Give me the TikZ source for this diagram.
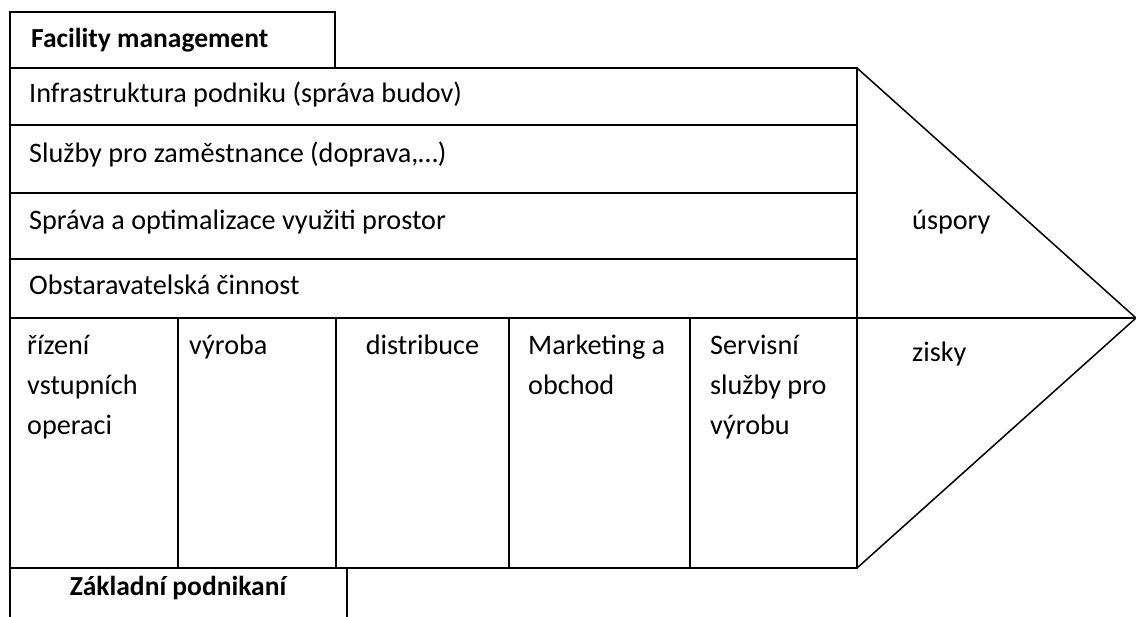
\documentclass[tikz,border=0pt]{standalone}
\usepackage{fontspec}
\setmainfont{Carlito}
\begin{document}
\begin{tikzpicture}[x=1pt,y=-1pt,
  frame/.style={line width=2.2pt},
  diag/.style={line width=1.5pt},
  lbl/.style={inner sep=0pt,anchor=base west,font=\fontsize{28.2}{40}\selectfont},
  lblc/.style={inner sep=0pt,anchor=base,font=\fontsize{28.2}{40}\selectfont},
  multi/.style={lbl,align=left},
  boldlbl/.style={lbl,font=\fontsize{27.5}{40}\selectfont\bfseries}]
\useasboundingbox (0,0) rectangle (1136,617);
% Facility management tab
\draw[frame] (10,68) -- (10,12) -- (335,12) -- (335,68);
% main box
\draw[frame] (10,68) -- (857,68) -- (857,568) -- (10,568);
\draw[frame] (10,68) -- (10,617);
\foreach \yy in {125,193,259,318} \draw[frame] (10,\yy) -- (857,\yy);
\foreach \xx in {178,336,509,690} \draw[frame] (\xx,318) -- (\xx,568);
% arrow head
\draw[diag] (857,68) -- (1136,318) -- (857,568);
\draw[frame] (857,318) -- (1136,318);
% bottom tab
\draw[frame] (347,568) -- (347,617);
% labels
\node[boldlbl] (fm) at (31,48) {Facility management};
\node[lbl] (r1) at (29,103) {Infrastruktura podniku (správa budov)};
\node[lbl] (r2) at (29,163) {Služby pro zaměstnance (doprava,…)};
\node[lbl] (r3) at (29,230) {Správa a optimalizace využiti prostor};
\node[lbl] (r4) at (29,295) {Obstaravatelská činnost};
\node[lbl] (usp) at (912,230) {úspory};
\node[lbl] (zis) at (912,362) {zisky};
\node[multi] (c1) at (27,435) {řízení\\vstupních\\operaci};
\node[lbl] (c2) at (189,355) {výroba};
\node[lblc] (c3) at (422.5,355) {distribuce};
\node[multi] (c4) at (528,395) {Marketing a\\obchod};
\node[multi] (c5) at (710,435) {Servisní\\služby pro\\výrobu};
\node[boldlbl,anchor=base] (zp) at (178,595) {Základní podnikaní};
\end{tikzpicture}
\end{document}
